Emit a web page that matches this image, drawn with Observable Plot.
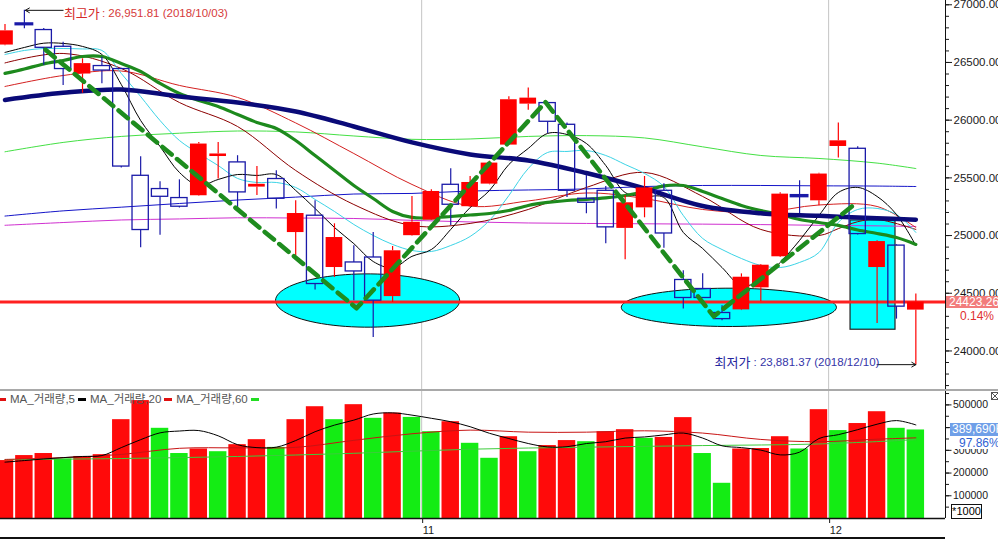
<!DOCTYPE html>
<html><head><meta charset="utf-8">
<script src="https://cdn.jsdelivr.net/npm/d3@7"></script>
<script src="https://cdn.jsdelivr.net/npm/@observablehq/plot@0.6"></script>
<style>
body{margin:0;background:#fff}
#wrap{position:relative;width:998px;height:539px;overflow:hidden;background:#fff;font-family:"Liberation Sans",Arial,"Noto Sans CJK KR",sans-serif}
.ov{position:absolute;white-space:nowrap}
#topPanel,#volPanel{position:absolute;left:0}
</style></head><body><div id="wrap"><div id="topPanel" style="top:0"></div><div id="volPanel" style="top:389px"></div></div>
<script>
// ---------- DATA (DJIA daily, 2018-10-02 .. 2018-12-10) ----------
const openP  = [26651,26833,26781,26636,26400,26469,26443,25518,25403,25325,25345,25685,25634,25420,25490,25026,25172,24723,24767,24810,24471,24999,25134,25440,25250,25446,25784,26139,26148,25960,25319,25388,25062,25240,25388,24615,24537,24329,24356,24547,24816,25345,25301,25772,25752,24723,24913,24354];
const highP  = [26828,26951.81,26795,26676,26532,26546,26450,25683,25466,25483,25807,25807,25692,25599,25562,25302,25302,25102,24912,25026,24905,25339,25397,25579,25512,25645,26203,26278,26155,25975,25521,25425,25347,25512,25449,24695,24669,24392,24668,24750,25370,25475,25540,25975,25769,24955,24920,24493];
const lowP   = [26645,26792,26475,26300,26234,26315,25585,24894,25002,25239,25340,25490,25243,25347,25230,24826,24528,24637,24436,24117,24420,24995,25130,25087,25246,25440,25780,26087,25885,25330,25189,24929,24790,25154,24890,24363,24455,24262,24350,24429,24810,25191,25258,25672,25005,24239,24276,23881.37];
const closeP = [26774,26828,26627,26443,26490,26430,25598,25048,25336,25250,25793,25707,25374,25444,25319,25191,24580,24983,24689,24436,24868,25115,25382,25267,25460,25628,26177,26191,25986,25388,25284,25071,25284,25413,25018,24459,24459,24276,24639,24743,25359,25338,25533,25821,25013,24948,24384,24423.26];
const volume = [255000,277000,286000,262000,273000,281000,435000,519000,397000,286000,306000,294000,325000,347000,313000,435000,492000,435000,501000,441000,464000,445000,382000,426000,331000,265000,360000,294000,321000,343000,338000,382000,391000,353000,357000,444000,286000,155000,306000,308000,360000,306000,479000,387000,418000,470000,397000,389690];

// price moving averages
const maBlack = [26587,26630,26667,26665,26639,26569,26309,25997,25772,25547,25434,25486,25529,25521,25529,25391,25235,25070,24930,24775,24720,24820,24879,25053,25243,25391,25616,25755,25885,25876,25798,25607,25373,25339,25330,25027,24888,24723,24567,24611,24767,24958,25174,25373,25417,25339,25183,24914];
const maCyan  = [26569,26604,26621,26621,26617,26604,26405,26205,25997,25824,25711,25607,25495,25460,25460,25417,25313,25209,25096,25001,24923,24871,24862,24914,24992,25131,25347,25581,25720,25729,25737,25694,25616,25538,25425,25174,24975,24879,24801,24741,24723,24767,24853,25114,25226,25235,25183,25027];
const maGreenThick = [26405,26444,26487,26517,26552,26552,26491,26422,26318,26231,26171,26119,26049,25980,25928,25824,25694,25564,25434,25321,25209,25157,25154,25165,25178,25191,25217,25261,25287,25304,25313,25326,25347,25382,25430,25434,25382,25321,25261,25217,25183,25139,25113,25088,25048,25018,24983,24923];
const sparseIdx = [0,3,6,9,12,15,18,21,24,27,30,33,36,39,42,45,47];
const maNavy       = [26175,26237,26266,26205,26153,26075,25945,25807,25703,25651,25542,25408,25256,25193,25171,25150,25137];
const maLightGreen = [25726,25807,25859,25887,25906,25898,25863,25834,25837,25859,25866,25846,25769,25694,25668,25628,25581];
const maBlue       = [25169,25214,25246,25278,25308,25333,25360,25365,25386,25395,25404,25425,25434,25434,25431,25429,25425];
const maMagenta    = [25089,25113,25135,25144,25154,25152,25148,25132,25118,25109,25105,25102,25099,25095,25089,25084,25079];
const maRed        = [26292,26387,26426,26301,26197,25976,25711,25443,25256,25300,25369,25321,25226,25200,25265,25252,25070];
const maroonIdx = [0,3,6,9,12,15,18,21,24,27,30,33,36,39,42,43,44,45,47];
const maMaroon  = [26496,26578,26448,26153,25945,25564,25269,25087,25105,25226,25417,25547,25339,25053,25000,25060,25120,25140,25053];

// volume moving averages
const volMa5  = [248000,255000,262000,268000,273000,277000,312000,347000,377000,385000,387000,364000,325000,312000,314000,343000,382000,411000,433000,460000,465000,455000,441000,426000,404000,375000,352000,330000,315000,316000,330000,338000,354000,359000,368000,376000,354000,320000,312000,301000,280000,292000,352000,369000,391000,415000,431000,412000];
const volMa20 = [260000,268000,282000,309000,311000,313000,344000,373000,389000,380000,380000,386000,376000,348000,338000,349000,355000];
const volMa60Idx = [0,6,12,18,24,30,36,42,47];
const volMa60 = [259000,264000,273000,287000,305000,314000,321000,328000,347000];

// annotations (data units: bar index, price)
const patternIdx   = [2.09,18.14,27.89,36.57,43.97];
const patternPrice = [26610,24370,26156,24299,25289];
const ellipseCx = [18.71,37.35], ellipseCy = [24437,24378], ellipseRx = [4.75,5.55], ellipseRy = [231,166];
const boxIdx = [43.63,45.95], boxPrice = [24184,25131];
const monthTickIdx = [21.5,42.5], monthLabels = ["11","12"];
const priceTicks = [24000,24500,25000,25500,26000,26500,27000];
const volTicks = [100000,200000,300000,400000,500000];
const hiName = "최고가", hiPrice = 26951.81, hiDate = "2018/10/03", hiBar = 1;
const loName = "최저가", loPrice = 23881.37, loDate = "2018/12/10", loBar = 47;
const lastChange = "0.14%", volRatio = "97.86%";
const volLegend = ["MA_거래량,5","MA_거래량,20","MA_거래량,60"];

// ---------- BUILD ----------
const FONT = '"Liberation Sans", Arial, "Noto Sans CJK KR", sans-serif';
const xDomain = [-0.232, 48.53];
const N = closeP.length;
const bars = closeP.map((c,i)=>({i, o:openP[i], h:highP[i], l:lowP[i], c, up: c > openP[i]}));
const RED = "#ff0000", BLUE = "#1a1aa8";
const pts = (idx, vals) => idx.map((i,k)=>({i, v: vals[k]}));
const allIdx = d3.range(N);
const ellPts = [];
ellipseCx.forEach((cx,g)=>{ d3.range(0,360,4).forEach(a=>{ const t=a*Math.PI/180; ellPts.push({g, i: cx+ellipseRx[g]*Math.cos(t), v: ellipseCy[g]+ellipseRy[g]*Math.sin(t)}); }); });
const fmt2 = d3.format(",.2f");

const maLine = (data, stroke, w) => Plot.line(data, {x:"i", y:"v", stroke, strokeWidth:w, curve:"catmull-rom"});

const topChart = Plot.plot({
  width: 998, height: 389, marginTop: 0, marginBottom: 0, marginLeft: 0, marginRight: 53,
  x: {domain: xDomain, axis: null, label: null},
  y: {domain: [23666, 27037], axis: null, label: null},
  style: {fontFamily: FONT, fontSize: "12px", color: "#1a1a1a", background: "transparent", overflow: "visible"},
  marks: [
    Plot.ruleX(monthTickIdx, {stroke: "#c4c4c4"}),
    Plot.line(ellPts, {x:"i", y:"v", z:"g", curve:"linear-closed", fill:"#00ffff", stroke:"#111", strokeWidth:1}),
    Plot.rect([0], {x1:()=>boxIdx[0], x2:()=>boxIdx[1], y1:()=>boxPrice[0], y2:()=>boxPrice[1], fill:"#00ffff", stroke:"#222", strokeWidth:1.2}),
    Plot.ruleY([closeP[N-1]], {stroke:"#ff2020", strokeWidth:3}),
    maLine(pts(sparseIdx, maLightGreen), "#44e044", 1),
    maLine(pts(sparseIdx, maBlue), "#1414c8", 1),
    maLine(pts(sparseIdx, maMagenta), "#d030d0", 1),
    maLine(pts(maroonIdx, maMaroon), "#8b0000", 1),
    maLine(pts(sparseIdx, maRed), "#d42020", 1),
    maLine(pts(allIdx, maCyan), "#3cd4e6", 1),
    maLine(pts(allIdx, maBlack), "#000000", 1),
    maLine(pts(allIdx, maGreenThick), "#1d8a1d", 3.2),
    maLine(pts(sparseIdx, maNavy), "#0a0a78", 4.5),
    Plot.ruleX(bars, {x:"i", y1:d=>Math.max(d.o,d.c), y2:"h", stroke:d=>d.up?RED:BLUE, strokeWidth:1.2}),
    Plot.ruleX(bars, {x:"i", y1:"l", y2:d=>Math.min(d.o,d.c), stroke:d=>d.up?RED:BLUE, strokeWidth:1.2}),
    Plot.rect(bars.filter(d=>d.up), {x1:d=>d.i-0.43, x2:d=>d.i+0.43, y1:"o", y2:"c", fill:RED}),
    Plot.rect(bars.filter(d=>!d.up && d.o-d.c>=15), {x1:d=>d.i-0.42, x2:d=>d.i+0.42, y1:"o", y2:"c", fill:"none", stroke:BLUE, strokeWidth:1.3}),
    Plot.rect(bars.filter(d=>!d.up && d.o-d.c<15), {x1:d=>d.i-0.42, x2:d=>d.i+0.42, y1:"o", y2:"c", fill:BLUE, stroke:BLUE, strokeWidth:2.6}),
    Plot.line(pts(patternIdx, patternPrice), {x:"i", y:"v", stroke:"#1e8c1e", strokeWidth:4.6, strokeDasharray:"12,7"}),
    Plot.arrow([0], {x1:()=>hiBar+2.0, y1:()=>hiPrice, x2:()=>hiBar+0.05, y2:()=>hiPrice, stroke:"#111", strokeWidth:1, headLength:7}),
    Plot.text([0], {x:()=>hiBar+2.04, y:()=>hiPrice, text:()=>hiName, fill:"#d42a2a", fontSize:13, textAnchor:"start", dy:3}),
    Plot.text([0], {x:()=>hiBar+2.04, y:()=>hiPrice, text:()=>": "+fmt2(hiPrice)+" ("+hiDate+")", fill:"#d63a3a", fontSize:11.5, textAnchor:"start", dx:38, dy:3}),
    Plot.arrow([0], {x1:()=>loBar-2.0, y1:()=>loPrice, x2:()=>loBar, y2:()=>loPrice, stroke:"#111", strokeWidth:1, headLength:7}),
    Plot.text([0], {x:()=>loBar-10.39, y:()=>loPrice, text:()=>loName, fill:"#26269e", fontSize:13, textAnchor:"start", dy:-2}),
    Plot.text([0], {x:()=>loBar-10.39, y:()=>loPrice, text:()=>": "+fmt2(loPrice)+" ("+loDate+")", fill:"#3434a8", fontSize:11.5, textAnchor:"start", dx:39, dy:-2}),
    Plot.ruleX([xDomain[1]], {stroke:"#111"}),
    Plot.axisY({anchor:"right", label:null, ticks: d3.range(23700, 27001, 100), tickSize:3, tickFormat:()=>""}),
    Plot.axisY({anchor:"right", label:null, ticks: priceTicks, tickSize:6, tickPadding:2, tickFormat:d=>d.toFixed(2), fontSize:11.5})
  ]
});
document.getElementById("topPanel").append(topChart);

const volData = volume.map((v,i)=>({i, v, col: (i===0 || v > volume[i-1]) ? "#ff0a0a" : "#14ec14"}));
const volChart = Plot.plot({
  width: 998, height: 150, marginTop: 2, marginBottom: 21, marginLeft: 0, marginRight: 53,
  x: {domain: xDomain, axis: null, label: null},
  y: {domain: [0, 559000], axis: null, label: null},
  color: {type: "identity"},
  style: {fontFamily: FONT, fontSize: "11px", color: "#1a1a1a", background: "transparent", overflow: "visible"},
  marks: [
    Plot.ruleX(monthTickIdx, {stroke: "#c4c4c4"}),
    Plot.rect(volData, {x1:d=>d.i-0.45, x2:d=>d.i+0.45, y1:()=>0, y2:"v", fill:"col"}),
    Plot.line(pts(volMa60Idx, volMa60), {x:"i", y:"v", stroke:"#3ccc3c", strokeWidth:1, curve:"catmull-rom"}),
    Plot.line(pts(sparseIdx, volMa20), {x:"i", y:"v", stroke:"#c81414", strokeWidth:1, curve:"catmull-rom"}),
    Plot.line(pts(allIdx, volMa5), {x:"i", y:"v", stroke:"#000", strokeWidth:1, curve:"catmull-rom"}),
    Plot.ruleY([0], {stroke:"#111", strokeWidth:1.5}),
    Plot.ruleX([xDomain[1]], {stroke:"#111"}),
    Plot.axisY({anchor:"right", label:null, ticks: d3.range(50000, 559000, 50000), tickSize:3, tickFormat:()=>""}),
    Plot.axisY({anchor:"right", label:null, ticks: volTicks, tickSize:5.5, tickPadding:2, tickFormat:d=>d.toFixed(0), fontSize:10.5}),
    Plot.axisX({anchor:"bottom", label:null, ticks: monthTickIdx, tickSize:5, tickPadding:3, tickFormat:d=>monthLabels[monthTickIdx.indexOf(d)], textAnchor:"start", dx:1, fontSize:11})
  ]
});
document.getElementById("volPanel").append(volChart);

// ---------- overlays ----------
const wrap = document.getElementById("wrap");
function ov(html, css){ const d=document.createElement("div"); d.className="ov"; d.innerHTML=html; d.style.cssText+=css; wrap.append(d); return d; }
ov("", "left:0;top:389px;width:998px;height:2px;background:#a9a9a9");
ov("", "left:0;top:536.5px;width:945px;height:2px;background:#111");
const yP = topChart.scale("y").apply(closeP[N-1]);
ov(closeP[N-1].toFixed(2), `left:946px;top:${yP-6}px;width:52px;height:12px;background:#f27c7c;color:#fff;font-size:12px;line-height:12px;padding-left:3px;box-sizing:border-box`);
ov(lastChange, `left:960px;top:${yP+8}px;color:#e03030;font-size:12px;line-height:13px`);
const yV = 389 + volChart.scale("y").apply(volume[N-1]);
ov(d3.format(",")(Math.round(volume[N-1]))+"K", `left:950px;top:${yV-6}px;width:48px;height:12.5px;background:#6f9fe8;color:#fff;font-size:12px;line-height:12.5px;padding-left:2px;box-sizing:border-box`);
ov(volRatio, `left:950px;top:${yV+7.5}px;width:48px;height:12px;background:#fff;color:#2f62d3;font-size:12px;line-height:12px;padding-left:9px;box-sizing:border-box`);
ov("*1000", "left:951px;top:503.5px;width:29px;height:13px;border:1px solid #111;font-size:11px;line-height:13px;text-align:center;background:#fff;box-sizing:content-box");
ov("", "left:991px;top:392px;width:6px;height:6px;border:1px solid #555;background:linear-gradient(45deg,transparent 45%,#555 45%,#555 55%,transparent 55%),linear-gradient(-45deg,transparent 45%,#555 45%,#555 55%,transparent 55%)");
const dash = c => `<span style="display:inline-block;width:8px;height:3px;background:${c};vertical-align:middle;margin:0 4px 0 3px"></span>`;
ov(dash("#e01010") + volLegend.map((t,k)=>`<span>${t}</span>` + dash(["#000","#e01010","#22dd22"][k])).join(""),
   "left:-5px;top:392px;font-size:11.5px;line-height:14px;color:#555");
</script></body></html>
